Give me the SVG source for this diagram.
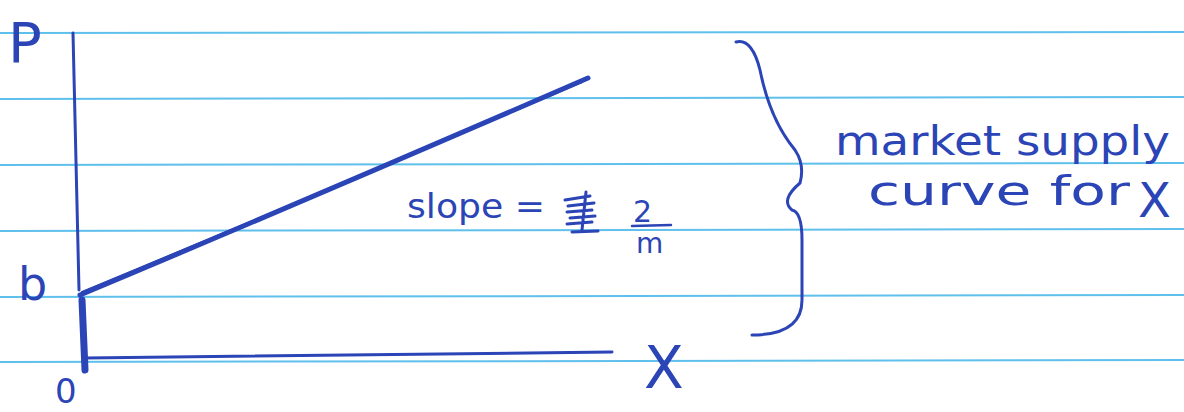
<svg xmlns="http://www.w3.org/2000/svg" width="1184" height="412" viewBox="0 0 1184 412">
<style>
.rule{stroke:#5fc0ec;stroke-width:2;fill:none}
.ink{stroke:#2b44b6;fill:none;stroke-linecap:round;stroke-linejoin:round}
.t{fill:#2b44b6;font-family:"DejaVu Sans","Liberation Sans",sans-serif;font-weight:normal}
</style>
<rect width="1184" height="412" fill="#ffffff"/>
<g id="paper">
<line class="rule" x1="0" y1="33" x2="1184" y2="32"/>
<line class="rule" x1="0" y1="99" x2="1184" y2="97"/>
<line class="rule" x1="0" y1="165" x2="1184" y2="163"/>
<line class="rule" x1="0" y1="231" x2="1184" y2="229"/>
<line class="rule" x1="0" y1="297" x2="1184" y2="295"/>
<line class="rule" x1="0" y1="362" x2="1184" y2="360"/>
</g>
<g id="connectors">
<path class="ink" stroke-width="3" d="M73 33 L79 290"/>
<path class="ink" stroke-width="7" d="M82 300 L85 370"/>
<path class="ink" stroke-width="3" d="M86 358 Q300 356 612 352"/>
<path class="ink" stroke-width="5" d="M80 295 Q330 190 588 78"/>
<path class="ink" stroke-width="2" d="M82 292 Q340 185 582 82"/>
</g>
<g id="axis-p"><text class="t" x="8" y="62" font-size="56">P</text></g>
<g id="axis-b"><text class="t" x="18" y="300" font-size="46">b</text></g>
<g id="origin"><text class="t" x="55" y="403" font-size="34">0</text></g>
<g id="axis-x"><text class="t" x="644" y="388" font-size="58">X</text></g>
<g id="slope-label">
<text class="t" x="407" y="218" font-size="34" textLength="138" lengthAdjust="spacingAndGlyphs">slope =</text>
<path class="ink" stroke-width="3" d="M565 200 L590 196 M568 206 L594 203 M567 212 L592 210 M570 218 L595 216 M567 224 L592 222 M572 232 L598 231 M586 192 L582 230"/>
<text class="t" x="633" y="222" font-size="30">2</text>
<line class="ink" stroke-width="2.5" x1="632" y1="226" x2="671" y2="225"/>
<text class="t" x="636" y="253" font-size="28">m</text>
</g>
<g id="brace"><path class="ink" stroke-width="3" d="M736 42 Q752 38 760 70 Q770 120 795 150 Q805 165 800 183 Q780 200 792 210 Q802 212 802 240 L802 300 Q802 335 752 335"/></g>
<g id="supply-label">
<text class="t" x="835" y="155" font-size="40" textLength="335" lengthAdjust="spacingAndGlyphs">market supply</text>
<text class="t" x="868" y="205" font-size="40" textLength="262" lengthAdjust="spacingAndGlyphs">curve for</text>
<text class="t" x="1138" y="217" font-size="48">X</text>
</g>
</svg>
